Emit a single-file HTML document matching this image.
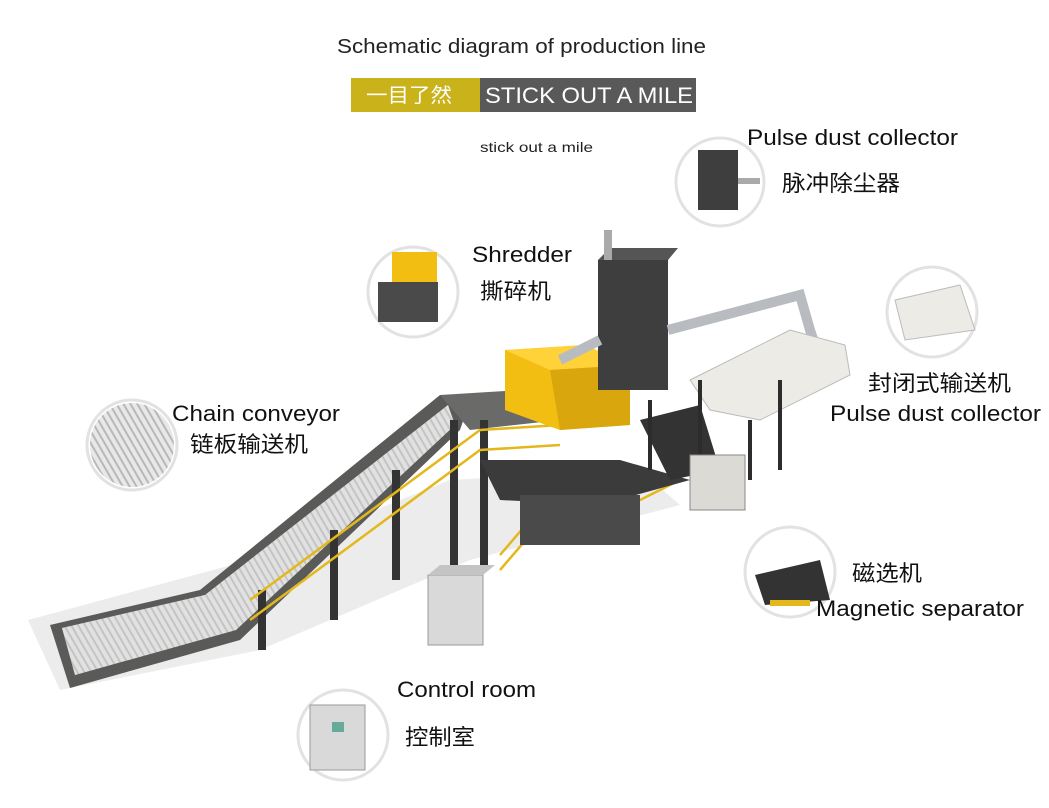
<!DOCTYPE html>
<html><head><meta charset="utf-8"><style>
body{margin:0;width:1049px;height:803px;background:#fff;overflow:hidden;font-family:"Liberation Sans","Noto Sans CJK SC",sans-serif}
</style></head><body>
<svg width="1049" height="803" viewBox="0 0 1049 803" xmlns="http://www.w3.org/2000/svg" font-family="Liberation Sans, Noto Sans CJK SC, sans-serif">
<defs>
<pattern id="stripes" width="6" height="6" patternUnits="userSpaceOnUse" patternTransform="rotate(-30)"><rect width="6" height="6" fill="#e8e8e8"/><rect width="2" height="6" fill="#b8b8b8"/></pattern>
</defs>
<text x="337" y="53" font-size="20" textLength="369" lengthAdjust="spacingAndGlyphs" fill="#222">Schematic diagram of production line</text>
<rect x="351" y="78" width="129" height="34" fill="#c9b21a"/>
<rect x="480" y="78" width="216" height="34" fill="#595959"/>
<text x="366" y="102" font-size="20" fill="#fff" textLength="86" lengthAdjust="spacingAndGlyphs">一目了然</text>
<text x="485" y="103" font-size="22" fill="#fff" textLength="208" lengthAdjust="spacingAndGlyphs">STICK OUT A MILE</text>
<text x="480" y="152" font-size="14" fill="#222" textLength="113" lengthAdjust="spacingAndGlyphs">stick out a mile</text>

<polygon points="28,620 60,690 260,650 470,560 680,505 640,470 450,480 250,560" fill="#ececec"/>
<polygon points="50,625 70,688 240,640 460,430 470,400 440,395 200,590" fill="#5a5a58"/>
<polygon points="62,628 75,675 236,630 455,425 448,405 205,595" fill="#d6d6d6"/>
<polygon points="62,628 75,675 236,630 455,425 448,405 205,595" fill="url(#stripes)" opacity="0.6"/>
<polygon points="440,395 520,390 560,420 470,430" fill="#6a6a68"/>
<g fill="#333"><rect x="258" y="590" width="8" height="60"/><rect x="330" y="530" width="8" height="90"/><rect x="392" y="470" width="8" height="110"/><rect x="450" y="420" width="8" height="150"/><rect x="480" y="420" width="8" height="150"/></g>
<polyline points="250,620 480,450 560,445" fill="none" stroke="#e3b81d" stroke-width="2.5"/>
<polyline points="250,600 480,430 560,425" fill="none" stroke="#e3b81d" stroke-width="2.5"/>
<polyline points="500,570 560,500 640,500 680,480" fill="none" stroke="#e3b81d" stroke-width="2.5"/>
<polyline points="500,555 560,485 640,485" fill="none" stroke="#e3b81d" stroke-width="2.5"/>
<polygon points="480,460 620,460 690,480 600,505 500,500" fill="#3b3b3b"/>
<rect x="520" y="495" width="120" height="50" fill="#4a4a4a"/>
<polygon points="505,350 585,345 630,365 630,425 560,430 505,410" fill="#f2be12"/>
<polygon points="505,350 585,345 630,365 550,370" fill="#ffd23a"/>
<polygon points="550,370 630,365 630,425 560,430" fill="#d9a70d"/>
<rect x="598" y="260" width="70" height="130" fill="#3e3e3e"/>
<polygon points="598,260 610,248 678,248 668,260" fill="#555"/>
<rect x="604" y="230" width="8" height="30" fill="#aaa"/>
<polyline points="668,330 800,295 810,330 815,345" fill="none" stroke="#b8bcc0" stroke-width="10"/>
<polyline points="600,340 560,360" fill="none" stroke="#b8bcc0" stroke-width="10"/>
<polygon points="690,380 790,330 845,345 850,375 760,420 710,410" fill="#ecebe6" stroke="#bbb"/>
<polygon points="640,420 700,405 720,470 670,480" fill="#333"/>
<g stroke="#2c2c2c" stroke-width="4" fill="none"><polyline points="700,380 700,470"/><polyline points="780,380 780,470"/><polyline points="750,420 750,480"/><polyline points="650,400 650,470"/></g>
<rect x="690" y="455" width="55" height="55" fill="#dcdad5" stroke="#888"/>
<rect x="428" y="575" width="55" height="70" fill="#d9d9d9" stroke="#999"/>
<polygon points="428,575 440,565 495,565 483,575" fill="#c4c4c4"/>

<g stroke="#e2e2e2" stroke-width="3" fill="#fff">
<circle cx="720" cy="182" r="44"/><circle cx="413" cy="292" r="45"/><circle cx="132" cy="445" r="45"/>
<circle cx="932" cy="312" r="45"/><circle cx="790" cy="572" r="45"/><circle cx="343" cy="735" r="45"/>
</g>
<rect x="698" y="150" width="40" height="60" fill="#3e3e3e"/><rect x="738" y="178" width="22" height="6" fill="#aaa"/>
<rect x="392" y="252" width="45" height="30" fill="#f2be12"/><rect x="378" y="282" width="60" height="40" fill="#4a4a4a"/>
<circle cx="132" cy="445" r="42" fill="url(#stripes)"/>
<polygon points="895,300 960,285 975,330 905,340" fill="#ecebe6" stroke="#bbb"/>
<polygon points="755,575 820,560 830,600 765,605" fill="#333"/><rect x="770" y="600" width="40" height="6" fill="#e3b81d"/>
<rect x="310" y="705" width="55" height="65" fill="#d9d9d9" stroke="#999"/><rect x="332" y="722" width="12" height="10" fill="#6a9"/>

<g font-size="22" fill="#111" lengthAdjust="spacingAndGlyphs">
<text x="747" y="145" textLength="211" lengthAdjust="spacingAndGlyphs">Pulse dust collector</text>
<text x="782" y="191" textLength="118" lengthAdjust="spacingAndGlyphs">脉冲除尘器</text>
<text x="472" y="262" textLength="100" lengthAdjust="spacingAndGlyphs">Shredder</text>
<text x="480" y="299" textLength="71" lengthAdjust="spacingAndGlyphs">撕碎机</text>
<text x="172" y="421" textLength="168" lengthAdjust="spacingAndGlyphs">Chain conveyor</text>
<text x="190" y="452" textLength="118" lengthAdjust="spacingAndGlyphs">链板输送机</text>
<text x="868" y="391" textLength="143" lengthAdjust="spacingAndGlyphs">封闭式输送机</text>
<text x="830" y="421" textLength="211" lengthAdjust="spacingAndGlyphs">Pulse dust collector</text>
<text x="852" y="581" textLength="70" lengthAdjust="spacingAndGlyphs">磁选机</text>
<text x="816" y="616" textLength="208" lengthAdjust="spacingAndGlyphs">Magnetic separator</text>
<text x="397" y="697" textLength="139" lengthAdjust="spacingAndGlyphs">Control room</text>
<text x="405" y="745" textLength="70" lengthAdjust="spacingAndGlyphs">控制室</text>
</g>
</svg>
</body></html>
